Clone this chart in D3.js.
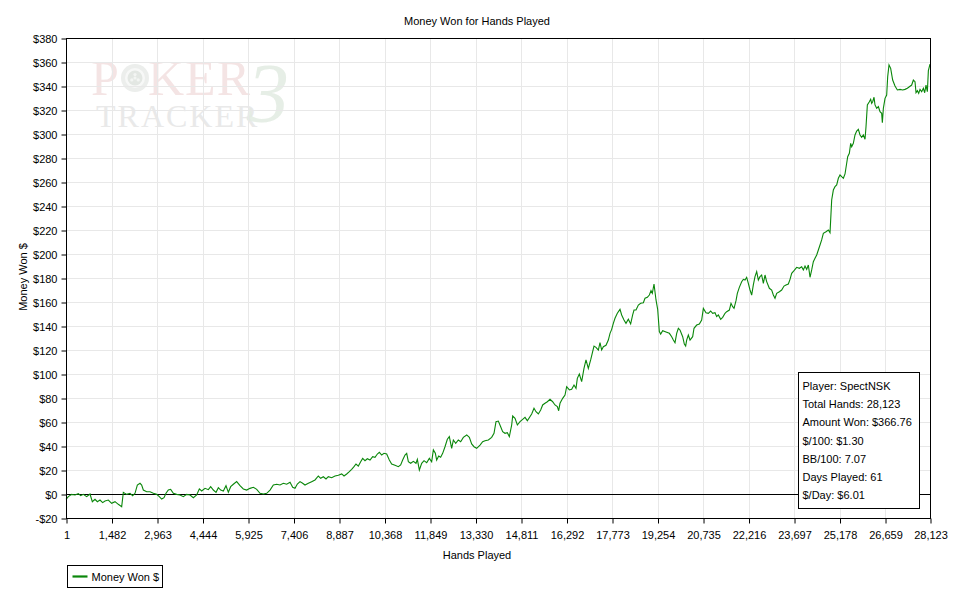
<!DOCTYPE html>
<html>
<head>
<meta charset="utf-8">
<script src="https://cdn.jsdelivr.net/npm/d3@7"></script>
<style>
  html, body { margin: 0; padding: 0; background: #ffffff; }
  svg { display: block; }
</style>
</head>
<body>
<svg id="chart" width="954" height="604"></svg>
<script>
// ---------------- DATA ----------------
const chartTitle = "Money Won for Hands Played";
const xAxisTitle = "Hands Played";
const yAxisTitle = "Money Won $";
const seriesName = "Money Won $";

const xTickValues = [1, 1482, 2963, 4444, 5925, 7406, 8887, 10368, 11849, 13330, 14811,
  16292, 17773, 19254, 20735, 22216, 23697, 25178, 26659, 28123];
const yTickValues = [-20, 0, 20, 40, 60, 80, 100, 120, 140, 160, 180, 200, 220, 240,
  260, 280, 300, 320, 340, 360, 380];

const statsLines = [
  "Player: SpectNSK",
  "Total Hands: 28,123",
  "Amount Won: $366.76",
  "$/100: $1.30",
  "BB/100: 7.07",
  "Days Played: 61",
  "$/Day: $6.01"
];

// hands played (cumulative)
const hands = [
  1, 77, 185, 294, 402, 478, 565, 674, 782, 858, 945, 1021, 1108, 1194, 1270, 1379, 1487, 1596, 1704, 1813,
  1867, 1976, 2084, 2171, 2247, 2323, 2410, 2464, 2518, 2627, 2736, 2844, 2952, 3039, 3115, 3191, 3256, 3332, 3408, 3495,
  3603, 3712, 3820, 3929, 4037, 4146, 4254, 4341, 4417, 4526, 4634, 4710, 4797, 4884, 4960, 5036, 5122, 5209, 5285, 5361,
  5448, 5556, 5665, 5773, 5882, 5990, 6099, 6208, 6316, 6425, 6533, 6642, 6750, 6859, 6967, 7076, 7184, 7293,
  7379, 7455, 7531, 7618, 7704, 7780, 7889, 7997, 8106, 8214, 8290, 8377, 8464, 8540, 8648, 8757, 8865, 8974, 9050, 9137,
  9223, 9299, 9375, 9440, 9516, 9592, 9657, 9733, 9809, 9896, 9983, 10059, 10135, 10200, 10276, 10352, 10439, 10525, 10601, 10710,
  10818, 10894, 10959, 11035, 11090, 11144, 11220, 11307, 11393, 11437, 11502, 11578, 11654, 11741, 11827, 11903, 11958, 12023, 12066, 12131,
  12196, 12261, 12337, 12413, 12478, 12554, 12609, 12685, 12771, 12847, 12934, 13043, 13129, 13205, 13281, 13368, 13477, 13563, 13639, 13748,
  13856, 13932, 13997, 14073, 14149, 14214, 14290, 14366, 14431, 14507, 14540, 14616, 14692, 14779, 14865, 14941, 15017,
  15158, 15234, 15299, 15375, 15451, 15516, 15592, 15668, 15755, 15841, 15917, 15993, 16037, 16080, 16167, 16243, 16297, 16384, 16460, 16536,
  16601, 16644, 16709, 16785, 16861, 16926, 17002, 17078, 17143, 17187, 17252, 17328, 17382, 17436, 17491, 17577, 17653, 17708, 17762, 17816,
  17870, 17946, 18033, 18087, 18163, 18228, 18304, 18380, 18445, 18489, 18554, 18630, 18706, 18793, 18847, 18923, 18988, 19042, 19085, 19140,
  19205, 19259, 19313, 19357, 19422, 19530, 19639, 19715, 19769, 19823, 19878, 19932, 19986, 20073, 20127, 20170, 20203, 20257, 20312, 20398,
  20442, 20529, 20615, 20691, 20746,
  20832, 20908, 20984, 21049, 21125, 21180, 21234, 21310, 21375, 21451, 21505, 21592, 21646, 21700, 21744, 21809, 21852, 21917, 21993, 22048,
  22102, 22156, 22210, 22265, 22319, 22373, 22427, 22482, 22536, 22590, 22644, 22699, 22753, 22807, 22894, 22970, 23024, 23078, 23133, 23220,
  23295, 23371, 23436, 23512, 23567, 23621, 23697, 23784, 23870, 23946, 24001, 24055, 24109, 24163, 24218, 24272, 24326, 24380, 24435, 24489,
  24543, 24597, 24652, 24738, 24814, 24869, 24923, 24977, 25031, 25086, 25140, 25194, 25248, 25303, 25357, 25411, 25444, 25498, 25541, 25574,
  25628, 25682, 25737, 25791, 25845, 25899, 25954, 26008, 26040, 26084, 26149, 26192, 26225, 26257, 26301, 26333, 26388, 26442, 26496, 26550,
  26572, 26605, 26659, 26713, 26746, 26789, 26843, 26908, 26984, 27060, 27147, 27234, 27310, 27386, 27451, 27527, 27581, 27635, 27668, 27711,
  27755, 27798, 27852, 27907, 27950, 27993, 28037, 28070, 28123
];

// cumulative money won ($)
const money = [
  -4.4, -2.2, -0.3, -0.8, 0.3, -1.4, -0.3, -2.2, 0.0, -6.4, -4.4, -6.4, -5.0, -7.2, -5.8, -5.0, -7.8, -6.4, -8.6, -10.6,
  1.4, -0.3, 0.6, -1.4, 0.6, 7.5, 8.9, 7.5, 3.3, 1.9, 1.9, 0.6, -0.3, -2.2, -4.2, -3.1, 0.6, 3.3, 3.9, 0.6,
  -0.3, -0.8, -2.2, -0.3, -0.8, -3.1, -0.8, 4.2, 2.5, 4.7, 3.6, 6.1, 3.3, 1.4, 5.3, 3.3, 2.5, 6.9, 1.4, 6.1,
  8.1, 10.3, 6.9, 4.2, 3.3, 4.7, 5.6, 3.9, 0.6, 0.0, 0.6, 3.3, 7.5, 8.1, 7.5, 8.9, 8.1, 9.7,
  5.6, 4.7, 8.3, 10.3, 8.9, 7.5, 8.9, 10.3, 11.7, 15.0, 13.1, 14.4, 12.5, 14.4, 13.6, 15.0, 15.6, 16.7, 15.0, 16.7,
  18.6, 20.6, 22.8, 25.0, 23.3, 26.9, 29.7, 27.8, 29.4, 28.3, 31.1, 30.6, 33.3, 34.7, 32.5, 33.9, 33.3, 28.3, 25.0, 23.9,
  22.8, 24.2, 28.3, 32.5, 33.9, 26.9, 25.6, 27.2, 25.6, 28.9, 20.0, 25.6, 27.8, 26.1, 29.7, 26.9, 36.7, 33.9, 28.3, 31.7,
  30.6, 33.9, 39.4, 45.6, 47.8, 38.1, 45.0, 42.2, 45.0, 43.6, 47.2, 49.2, 47.2, 41.7, 39.4, 38.1, 40.8, 43.6, 44.4, 45.0,
  47.2, 50.6, 60.3, 60.8, 56.1, 52.0, 50.6, 51.1, 47.8, 57.5, 65.0, 63.1, 57.5, 60.3, 62.2, 63.9, 61.1,
  66.7, 71.4, 68.6, 66.7, 70.0, 74.2, 75.6, 76.9, 78.9, 76.9, 74.2, 72.8, 69.4, 75.6, 79.7, 82.5, 89.4, 86.7, 87.2, 90.8,
  88.1, 96.4, 100.0, 93.6, 104.7, 111.7, 104.7, 111.7, 118.6, 123.3, 122.2, 120.0, 126.1, 120.0, 122.8, 123.9, 128.3, 133.9, 137.2, 142.2,
  146.4, 150.6, 153.9, 149.2, 145.0, 142.2, 145.6, 141.7, 149.2, 153.3, 153.3, 157.5, 158.9, 159.4, 163.1, 163.9, 165.8, 169.4, 167.2, 175.0,
  161.7, 153.9, 135.3, 133.3, 136.1, 135.0, 133.9, 131.1, 128.3, 126.1, 133.9, 138.1, 136.7, 131.1, 125.0, 123.3, 128.3, 132.5, 128.3, 131.1,
  138.1, 140.8, 141.7, 145.0, 154.7,
  151.1, 150.6, 152.5, 150.6, 151.1, 147.8, 149.2, 145.6, 147.2, 150.6, 151.9, 153.3, 158.9, 156.1, 154.7, 161.1, 167.2, 172.2, 176.9, 178.9,
  178.3, 180.6, 175.6, 170.0, 165.8, 174.2, 181.1, 185.3, 178.3, 181.1, 182.5, 175.6, 182.5, 177.0, 171.4, 170.0, 165.8, 163.1, 167.2, 168.6,
  170.0, 173.3, 174.2, 175.0, 178.9, 183.9, 186.1, 188.9, 188.1, 189.4, 186.7, 190.0, 187.2, 190.8, 180.6, 186.7, 193.6, 196.4, 199.2, 203.3,
  207.5, 211.7, 217.2, 218.6, 220.0, 217.8, 245.0, 253.3, 256.1, 257.5, 263.1, 265.8, 264.4, 263.1, 266.7, 275.6, 281.1, 283.9, 292.2, 289.4,
  292.2, 299.2, 302.5, 303.9, 299.2, 297.2, 299.2, 295.6, 306.1, 324.2, 326.9, 328.9, 325.6, 326.9, 330.6, 324.2, 321.4, 322.8, 318.6, 317.2,
  309.4, 321.4, 329.7, 332.5, 347.8, 357.5, 354.7, 345.0, 340.0, 336.7, 337.2, 336.7, 337.2, 338.1, 339.4, 340.8, 345.0, 343.6, 334.4, 336.1,
  333.9, 337.2, 335.3, 338.1, 334.4, 340.8, 335.3, 352.8, 358.3
];

// ---------------- CHART ----------------
const svg = d3.select("#chart");
const W = 954, H = 604;
const plot = { left: 66, right: 930, top: 38, bottom: 518 };

const x = d3.scaleLinear().domain([1, 28123]).range([plot.left, plot.right]);
const y = d3.scaleLinear().domain([-20, 380]).range([plot.bottom, plot.top]);

const FONT = 11;
const SANS = "'Liberation Sans', Arial, sans-serif";
const SERIF = "'Liberation Serif', 'DejaVu Serif', serif";

svg.append("rect").attr("width", W).attr("height", H).attr("fill", "#ffffff");

// Watermark (PokerTracker 3 logo): chip graphic + one text element with tspans
const wm = svg.append("g").attr("class", "watermark");
const chip = wm.append("g").attr("transform", "translate(135,78)");
chip.append("circle").attr("r", 14).attr("fill", "#eceeec");
chip.append("circle").attr("r", 10).attr("fill", "#f7f8f7");
chip.append("circle").attr("r", 7.5).attr("fill", "#e3e7e3");
[[0,-3.4],[3.2,1.9],[-3.2,1.9],[0,0]].forEach(p => {
  chip.append("circle").attr("cx", p[0]).attr("cy", p[1]).attr("r", 1.6).attr("fill", "#f3f5f3");
});
const logo = wm.append("text").style("font-family", SERIF);
logo.append("tspan").attr("x", 91).attr("y", 95)
  .style("font-size", "50px").attr("fill", "#f4e4e4").text("P");
logo.append("tspan").attr("x", 148).attr("y", 95)
  .style("font-size", "50px").style("letter-spacing", "1px").attr("fill", "#f4e4e4").text("KER");
logo.append("tspan").attr("x", 96).attr("y", 127)
  .style("font-size", "32px").style("letter-spacing", "2px").attr("fill", "#e9e9e9").text("TRACKER");
logo.append("tspan").attr("x", 247).attr("y", 122)
  .style("font-size", "84px").style("font-style", "italic").style("letter-spacing", "0px")
  .attr("fill", "#e2ebe2").attr("fill-opacity", 0.85).text("3");

// gridlines
const grid = svg.append("g").attr("class", "grid");
grid.selectAll("line.vg").data(xTickValues).join("line")
  .attr("class", "vg")
  .attr("x1", d => Math.round(x(d)) + 0.5).attr("x2", d => Math.round(x(d)) + 0.5)
  .attr("y1", plot.top).attr("y2", plot.bottom)
  .attr("stroke", "#e8e8e8").attr("stroke-width", 1);
grid.selectAll("line.hg").data(yTickValues).join("line")
  .attr("class", "hg")
  .attr("x1", plot.left).attr("x2", plot.right)
  .attr("y1", d => Math.round(y(d)) + 0.5).attr("y2", d => Math.round(y(d)) + 0.5)
  .attr("stroke", "#e8e8e8").attr("stroke-width", 1);

// zero line
svg.append("line")
  .attr("x1", plot.left).attr("x2", plot.right)
  .attr("y1", Math.round(y(0)) + 0.5).attr("y2", Math.round(y(0)) + 0.5)
  .attr("stroke", "#000000").attr("stroke-width", 1);

// series line
const pts = hands.map((h, i) => [h, money[i]]);
const line = d3.line().x(d => x(d[0])).y(d => y(d[1]));
svg.append("path").datum(pts)
  .attr("d", line)
  .attr("fill", "none")
  .attr("stroke", "#0a870a")
  .attr("stroke-width", 1.1)
  .attr("stroke-linejoin", "miter");

// plot frame
svg.append("rect")
  .attr("x", plot.left + 0.5).attr("y", plot.top + 0.5)
  .attr("width", plot.right - plot.left).attr("height", plot.bottom - plot.top)
  .attr("fill", "none").attr("stroke", "#000000").attr("stroke-width", 1);

// axes
const yAxis = d3.axisLeft(y).tickValues(yTickValues)
  .tickFormat(d => (d < 0 ? "-$" : "$") + Math.abs(d))
  .tickSizeInner(5).tickSizeOuter(0).tickPadding(4);
const gy = svg.append("g").attr("transform", `translate(${plot.left + 0.5},0.5)`).call(yAxis);
gy.select(".domain").remove();
gy.selectAll("text").style("font-size", FONT + "px").attr("fill", "#000").style("font-family", SANS);
gy.selectAll("line").attr("stroke", "#000");

const xAxis = d3.axisBottom(x).tickValues(xTickValues)
  .tickFormat(d3.format(","))
  .tickSizeInner(5).tickSizeOuter(0).tickPadding(8);
const gx = svg.append("g").attr("transform", `translate(0.5,${plot.bottom + 0.5})`).call(xAxis);
gx.select(".domain").remove();
gx.selectAll("text").style("font-size", FONT + "px").attr("fill", "#000").style("font-family", SANS);
gx.selectAll("line").attr("stroke", "#000");

// titles
function label(sel) {
  return sel.style("font-family", SANS).style("font-size", FONT + "px").attr("fill", "#000");
}
label(svg.append("text").attr("x", 477).attr("y", 25).attr("text-anchor", "middle")).text(chartTitle);
label(svg.append("text").attr("x", 477).attr("y", 559).attr("text-anchor", "middle")).text(xAxisTitle);
label(svg.append("text").attr("transform", "translate(27,277) rotate(-90)").attr("text-anchor", "middle")).text(yAxisTitle);

// stats box
const box = svg.append("g").attr("transform", "translate(798.5,372.5)");
box.append("rect").attr("width", 121).attr("height", 136)
  .attr("fill", "#ffffff").attr("stroke", "#000").attr("stroke-width", 1);
label(box.selectAll("text").data(statsLines).join("text")
  .attr("x", 4).attr("y", (d, i) => 17.5 + i * 18.2)).text(d => d);

// legend
const lg = svg.append("g").attr("transform", "translate(67.5,565.5)");
lg.append("rect").attr("width", 95).attr("height", 22)
  .attr("fill", "#ffffff").attr("stroke", "#000").attr("stroke-width", 1);
lg.append("line").attr("x1", 5).attr("x2", 20).attr("y1", 11).attr("y2", 11)
  .attr("stroke", "#0a870a").attr("stroke-width", 2.2);
label(lg.append("text").attr("x", 24).attr("y", 15.5)).text(seriesName);
</script>
</body>
</html>
